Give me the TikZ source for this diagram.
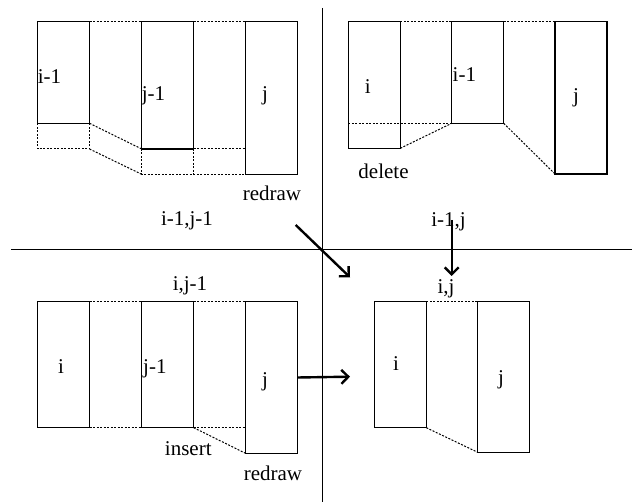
\documentclass[tikz,border=0pt]{standalone}
\usepackage{fontspec}
\setmainfont{Liberation Serif}
\usetikzlibrary{arrows.meta}
\begin{document}
\begin{tikzpicture}[x=1pt,y=-1pt,
  bx/.style={draw, line width=1.4pt, inner sep=0pt, outer sep=0pt,
             minimum width=52pt, anchor=north west},
  dl/.style={line width=1pt, dash pattern=on 2pt off 1.5pt},
  txt/.style={inner sep=0pt, font=\fontsize{21}{25}\selectfont, anchor=base},
  txtl/.style={txt, anchor=base west},
  sep/.style={line width=1.4pt},
  arr/.style={line width=2.4pt, -{Straight Barb[length=7pt,width=14pt,line width=2.4pt]}}
]
\useasboundingbox (0,0) rectangle (632,502);

% quadrant separators
\coordinate (hl) at (11,249.5);
\coordinate (hr) at (632,249.5);
\coordinate (vt) at (322.7,8);
\coordinate (vb) at (322.7,502);
\draw[sep] (hl) -- (hr);
\draw[sep] (vt) -- (vb);

% ---------- upper left: state i-1,j-1 ----------
\node[bx, minimum height=101.6pt] (tl1) at (37.5,21.7) {};
\node[bx, minimum height=127.3pt] (tl2) at (141.7,21.7) {};
\node[bx, minimum height=152.6pt] (tl3) at (245.5,21.7) {};
\draw[dl] (tl1.north east) -- (tl2.north west);
\draw[dl] (tl2.north east) -- (tl3.north west);
\draw[dl] (tl1.south west) |- (tl1.south east |- tl2.south) -- (tl1.south east);
\draw[dl] (tl1.south east) -- (tl2.south west);
\draw[dl] (tl1.south east |- tl2.south) -- (tl2.south west |- tl3.south);
\draw[dl] (tl2.south west) -- (tl2.south west |- tl3.south) -- (tl3.south west);
\draw[dl] (tl2.south east) -- (tl2.south east |- tl3.south);
\draw[dl] (tl2.south east) -- (tl3.south west |- tl2.south);
\node[txtl] (tl1t) at (37.7,84) {i-1};
\node[txtl] (tl2t) at (141.7,101) {j-1};
\node[txt] (tl3t) at (265,101) {j};
\node[txt] (tlr) at (272,201) {redraw};
\node[txt] (tls) at (187,226) {i-1,j-1};

% ---------- upper right: state i-1,j ----------
\node[bx, minimum height=126.6pt] (tr1) at (348.3,21.7) {};
\node[bx, minimum height=101.6pt] (tr2) at (451.7,21.7) {};
\node[bx, minimum height=152.3pt] (tr3) at (555,21.7) {};
\draw[dl] (tr1.north east) -- (tr2.north west);
\draw[dl] (tr2.north east) -- (tr3.north west);
\draw[dl] (tr1.west |- tr2.south) -- (tr2.south west);
\draw[dl] (tr1.south east) -- (tr2.south west);
\draw[dl] (tr2.south east) -- (tr3.south west);
\node[txt] (tr1t) at (367.7,94) {i};
\node[txtl] (tr2t) at (452.5,81.7) {i-1};
\node[txt] (tr3t) at (576,102.7) {j};
\node[txt] (trd) at (383.5,178.3) {delete};
\node[txt] (trs) at (448.5,226.7) {i-1,j};

% ---------- lower left: state i,j-1 ----------
\node[bx, minimum height=126pt] (bl1) at (37.5,301.7) {};
\node[bx, minimum height=126pt] (bl2) at (141.7,301.7) {};
\node[bx, minimum height=151.6pt] (bl3) at (245.5,301.7) {};
\draw[dl] (bl1.north east) -- (bl2.north west);
\draw[dl] (bl2.north east) -- (bl3.north west);
\draw[dl] (bl1.south east) -- (bl2.south west);
\draw[dl] (bl2.south east) -- (bl3.west |- bl2.south);
\draw[dl] (bl2.south east) -- (bl3.south west);
\node[txt] (bls) at (190,290.7) {i,j-1};
\node[txt] (bl1t) at (61,373.3) {i};
\node[txtl] (bl2t) at (143,373.3) {j-1};
\node[txt] (bl3t) at (265,386.7) {j};
\node[txt] (bli) at (188.3,455) {insert};
\node[txt] (blr) at (273,480) {redraw};

% ---------- lower right: state i,j ----------
\node[bx, minimum height=126pt] (br1) at (374.3,301.7) {};
\node[bx, minimum height=150.6pt] (br2) at (477.7,301.7) {};
\draw[dl] (br1.north east) -- (br2.north west);
\draw[dl] (br1.south east) -- (br2.south west);
\node[txt] (brs) at (446,293.3) {i,j};
\node[txt] (br1t) at (396,370.7) {i};
\node[txt] (br2t) at (501,385) {j};

% ---------- transitions ----------
\coordinate (dgs) at (295.7,225);
\coordinate (dge) at (350,277.3);
\coordinate (dns) at (451.7,220);
\coordinate (dne) at (451.7,276);
\coordinate (rte) at (350,376.7);
\draw[arr] (dgs) -- (dge);
\draw[arr] (dns) -- (dne);
\draw[arr] (bl3.east) -- (rte);
\end{tikzpicture}
\end{document}
